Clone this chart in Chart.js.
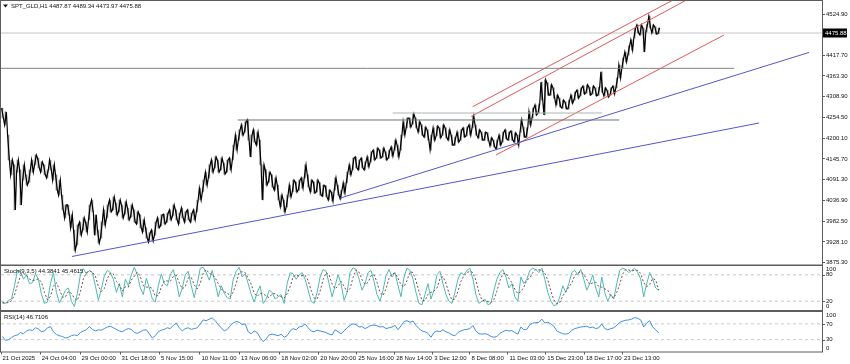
<!DOCTYPE html>
<html><head><meta charset="utf-8">
<script src="https://cdn.jsdelivr.net/npm/chart.js@4.4.1/dist/chart.umd.min.js"></script>
<style>
html,body{margin:0;padding:0;background:#fff;width:850px;height:364px;overflow:hidden}
.w{position:absolute;left:0;width:850px}
#wMain{top:0;height:266px}
#wSto{top:265px;height:46px}
#wRsi{top:311px;height:53px}
canvas{display:block}
</style></head><body>
<div class="w" id="wMain"><canvas id="cMain" width="850" height="266"></canvas></div>
<div class="w" id="wSto"><canvas id="cSto" width="850" height="46"></canvas></div>
<div class="w" id="wRsi"><canvas id="cRsi" width="850" height="53"></canvas></div>
<script>
// ---------- DATA ----------
const symbolTitle = 'SPT_GLD,H1 4487.87 4489.34 4473.97 4475.88';
const lastPrice = 4475.88;
const priceHigh = [
4279,4269,4208,4143,4130,4143,4117,4130,4104,4117,
4143,4156,4148,4138,4130,4117,4143,4130,4104,4090,
4051,4025,4025,3999,3959,3972,3980,3991,3980,4025,
4038,3999,3959,3980,4012,4025,4038,4046,4030,4038,
4025,4033,4017,4025,4012,4007,3999,3986,3965,3952,
3959,3980,3991,3999,4001,4004,4012,4025,4012,4004,
4017,4007,4012,4004,4012,4038,4069,4090,4111,4130,
4143,4151,4143,4148,4135,4143,4148,4182,4208,4222,
4235,4243,4248,4208,4222,4216,4195,4130,4117,4111,
4104,4096,4077,4051,4038,4051,4077,4090,4085,4090,
4096,4130,4104,4090,4085,4090,4083,4077,4075,4064,
4059,4096,4077,4064,4083,4111,4130,4148,4151,4143,
4148,4138,4151,4164,4169,4174,4169,4174,4164,4169,
4177,4195,4182,4208,4243,4253,4253,4264,4253,4243,
4235,4229,4222,4208,4227,4232,4227,4235,4227,4222,
4208,4203,4216,4222,4227,4229,4235,4258,4235,4222,
4216,4216,4214,4201,4195,4195,4208,4216,4222,4216,
4219,4214,4208,4248,4229,4227,4269,4279,4287,4290,
4347,4353,4345,4340,4332,4313,4305,4300,4295,4300,
4313,4321,4326,4332,4337,4340,4334,4337,4332,4334,
4374,4332,4326,4332,4337,4358,4392,4410,4426,4442,
4458,4489,4497,4497,4489,4499,4520,4497,4492,4489.34];
const priceLow = [
4253,4235,4143,4104,4012,4111,4025,4090,4077,4085,
4111,4130,4122,4111,4104,4096,4117,4090,4064,4051,
4012,3991,3999,3965,3906,3920,3946,3959,3954,3986,
4007,3946,3925,3938,3972,3991,4007,4012,3999,4007,
3991,4001,3986,3993,3980,3975,3965,3954,3938,3928,
3931,3946,3965,3970,3975,3980,3986,3996,3986,3975,
3991,3980,3986,3980,3986,4007,4038,4059,4077,4096,
4111,4122,4111,4117,4106,4111,4117,4143,4169,4195,
4208,4216,4195,4151,4190,4182,4130,4038,4077,4085,
4072,4064,4038,4020,4007,4020,4046,4059,4059,4064,
4069,4096,4072,4059,4056,4059,4051,4048,4046,4038,
4035,4064,4051,4041,4056,4083,4104,4117,4122,4117,
4122,4117,4125,4138,4143,4148,4148,4151,4143,4148,
4153,4169,4151,4169,4208,4227,4229,4237,4227,4216,
4208,4203,4195,4169,4195,4206,4201,4208,4201,4195,
4182,4182,4190,4195,4203,4206,4208,4227,4208,4201,
4195,4195,4193,4180,4177,4172,4182,4190,4198,4195,
4195,4190,4182,4216,4203,4203,4235,4253,4261,4266,
4300,4261,4313,4313,4305,4287,4282,4279,4277,4277,
4292,4300,4305,4311,4316,4319,4313,4316,4311,4313,
4321,4311,4308,4313,4316,4332,4358,4384,4400,4418,
4431,4463,4476,4471,4426,4479,4489,4476,4473,4473.97];
const priceTicks = [4524.90,4417.70,4363.30,4308.90,4254.50,4200.10,4145.70,4091.30,4036.90,3982.50,3928.10,3875.30];

const stochMain = [
15,15,22,25,55,90,88,70,80,60,
62,82,70,36,15,18,60,85,40,16,
30,45,50,20,8,38,80,94,82,90,
85,55,22,48,78,90,85,70,40,60,
30,70,55,80,97,80,50,35,72,50,
25,18,55,82,60,55,80,92,65,30,
50,80,88,55,28,60,95,97,85,68,
90,60,30,55,38,28,25,70,88,97,
75,82,60,36,18,40,55,15,25,45,
40,25,30,35,15,60,85,82,70,80,
85,70,45,20,15,40,75,92,88,60,
30,55,80,60,22,40,85,96,92,70,
45,60,85,90,65,35,20,45,78,92,
75,85,55,30,75,95,90,70,40,15,
12,35,60,25,45,80,88,60,35,20,
15,40,70,85,80,90,95,70,35,15,
20,25,12,15,45,70,85,92,75,50,
60,30,20,75,60,70,90,95,92,85,
95,70,40,20,10,12,30,55,40,60,
85,90,80,92,70,45,60,80,50,30,
75,40,20,35,25,60,90,95,92,85,
90,95,85,70,30,60,85,70,50,44.3841];
const stochSignal = [
18,16,17,21,34,57,78,83,79,70,
67,68,71,63,40,23,31,54,62,47,
29,30,42,38,26,22,42,71,85,89,
86,77,54,42,49,72,84,82,65,57,
43,53,52,68,77,86,76,55,52,52,
49,31,33,52,66,66,65,76,79,62,
48,53,73,74,57,48,61,84,92,83,
81,73,60,48,41,40,30,41,61,85,
87,85,72,59,38,31,38,37,32,28,
37,37,32,30,27,37,53,76,79,77,
78,79,67,45,27,25,43,69,85,80,
59,48,55,65,54,41,49,74,91,86,
69,58,63,78,80,63,40,33,48,72,
82,84,72,57,53,67,87,85,67,42,
22,21,36,40,43,50,71,76,61,38,
23,25,42,65,78,85,88,85,67,40,
23,20,19,17,24,43,67,82,84,72,
62,47,37,42,52,68,73,85,92,91,
91,83,68,43,23,14,17,32,42,52,
62,78,85,87,81,69,58,62,63,53,
52,48,45,32,27,40,58,82,92,91,
89,90,90,83,62,53,58,72,68,45.4615];
const rsiValues = [
38,28,30,35,40,42,48,45,52,55,
53,60,57,50,52,60,63,50,43,40,
38,34,36,40,42,40,48,52,55,63,
56,52,55,54,58,62,64,60,56,52,
50,55,58,56,48,46,50,54,55,45,
34,40,50,54,56,60,58,66,72,60,
52,58,60,56,58,60,70,80,78,82,
85,78,68,60,52,56,65,72,76,74,
68,70,50,45,52,48,35,25,32,42,
44,42,40,44,36,40,52,58,55,62,
64,70,60,52,50,54,52,50,48,44,
42,55,50,45,52,60,66,70,68,62,
63,58,62,66,67,65,62,63,58,60,
62,66,55,65,76,78,74,77,66,58,
52,50,46,36,48,52,50,55,50,47,
42,40,48,52,55,56,58,66,52,45,
44,45,43,38,36,38,46,50,54,52,
53,48,44,62,55,56,68,72,73,74,
82,72,74,70,64,52,48,45,44,46,
54,58,60,62,63,64,60,62,58,60,
70,58,55,58,60,66,74,77,79,80,
82,86,84,80,62,72,78,62,55,46.7106];
const stochLevels = [100,80,20,0];
const rsiLevels = [100,70,30,0];

const timeLabels = ['21 Oct 2025','24 Oct 04:00','29 Oct 00:00','31 Oct 18:00','5 Nov 15:00','10 Nov 11:00','13 Nov 06:00','18 Nov 02:00','20 Nov 20:00','25 Nov 16:00','28 Nov 14:00','3 Dec 12:00','8 Dec 08:00','11 Dec 03:00','15 Dec 23:00','18 Dec 17:00','23 Dec 13:00'];
const timeTickPos = [-0.5,12.57,25.9,39.23,52.43,65.9,79.1,92.57,105.57,118.23,130.9,143.57,156.0,168.67,181.33,194.23,206.9];

// drawn objects (sample index, price)
const askLine      = [{x:-0.5,y:4475.88},{x:273.5,y:4475.88}];
const resistance1  = [{x:-0.5,y:4383.3},{x:244.2,y:4383.3}];
const resistance2  = [{x:78.5,y:4247.8},{x:205.8,y:4247.8}];
const resistance3  = [{x:130.2,y:4266.1},{x:200.2,y:4266.1}];
const trendLow     = [{x:23.17,y:3889.9},{x:252.5,y:4239.9}];
const trendMid     = [{x:112.5,y:4042.5},{x:269.2,y:4425.0}];
const channelTop   = [{x:156.9,y:4282.6},{x:226.2,y:4572.6}];
const channelMid   = [{x:156.4,y:4257.0},{x:230.8,y:4573.2}];
const channelBot   = [{x:164.7,y:4156.0},{x:240.8,y:4470.6}];
const stoch80 = [{x:-0.5,y:80},{x:273.5,y:80}];
const stoch20 = [{x:-0.5,y:20},{x:273.5,y:20}];
const rsi70 = [{x:-0.5,y:70},{x:273.5,y:70}];
const rsi30 = [{x:-0.5,y:30},{x:273.5,y:30}];

// ---------- HELPERS ----------
const FONT = "'Liberation Sans', Arial, sans-serif";
const XMIN = -0.5, XMAX = 273.5;
const AXIS_W = 28;
const FRAME = '#5c5c5c';

const framePlugin = {
  id:'frame',
  afterDraw(chart){
    const a = chart.chartArea, ctx = chart.ctx;
    ctx.save();
    ctx.strokeStyle = FRAME; ctx.lineWidth = 1;
    ctx.strokeRect(a.left-0.5, a.top-0.5, a.right-a.left+1, a.bottom-a.top+1);
    ctx.restore();
  }
};
function titlePlugin(text, tri){
  return {
    id:'title'+text.length,
    afterDraw(chart){
      const ctx = chart.ctx, a = chart.chartArea;
      ctx.save();
      ctx.fillStyle = '#111';
      ctx.font = '6px ' + FONT;
      ctx.textBaseline = 'middle'; ctx.textAlign = 'left';
      let x = a.left + 3;
      if (tri){
        ctx.beginPath(); ctx.moveTo(3,4.5); ctx.lineTo(8,4.5); ctx.lineTo(5.5,7.5); ctx.closePath(); ctx.fill();
        x = 11;
      }
      ctx.fillText(text, x, a.top + 5.5);
      ctx.restore();
    }
  };
}
function levelLabels(values){
  return {
    id:'lvl',
    afterDraw(chart){
      const ctx = chart.ctx, a = chart.chartArea, y = chart.scales.y;
      ctx.save();
      ctx.font = '6px ' + FONT; ctx.fillStyle = '#111'; ctx.textAlign='left';
      ctx.strokeStyle = FRAME; ctx.lineWidth = 1;
      values.forEach(v => {
        let py = y.getPixelForValue(v), base = 'middle';
        if (v === y.max){ base='top'; py = a.top + 0.5; }
        else if (v === y.min){ base='bottom'; py = a.bottom - 0.5; }
        else {
          const ty = Math.round(y.getPixelForValue(v)) + 0.5;
          ctx.beginPath(); ctx.moveTo(a.right, ty); ctx.lineTo(a.right+3, ty); ctx.stroke();
        }
        ctx.textBaseline = base;
        ctx.fillText(String(v), a.right + 4, py);
      });
      ctx.restore();
    }
  };
}
const priceBoxPlugin = {
  id:'pricebox',
  afterDraw(chart){
    const ctx = chart.ctx, a = chart.chartArea, y = chart.scales.y;
    const py = y.getPixelForValue(lastPrice);
    ctx.save();
    ctx.fillStyle = '#000';
    ctx.fillRect(a.right + 1, Math.round(py) - 4.5, 24, 9);
    ctx.fillStyle = '#fff'; ctx.font = '6px ' + FONT;
    ctx.textBaseline = 'middle'; ctx.textAlign = 'left';
    ctx.fillText(lastPrice.toFixed(2), a.right + 3, py);
    ctx.restore();
  }
};
function lineDs(data, color, width, dash, order){
  return {type:'line', data, borderColor:color, borderWidth:width||1, borderDash:dash||[], pointRadius:0, fill:false, tension:0, order:order||0};
}
function seriesXY(arr){ return arr.map((v,i)=>({x:i, y:v})); }
// each sample drawn as a tight zig-zag between its low and high (dense OHLC look)
function rangeTrace(hi, lo){
  const pts = [];
  hi.forEach((h,i)=>{
    const a = i % 2 ? lo[i] : h, b = i % 2 ? h : lo[i];
    pts.push({x:i-0.3, y:a}, {x:i+0.3, y:b});
  });
  return pts;
}
const baseX = {type:'linear', min:XMIN, max:XMAX, display:false, offset:false, grid:{offset:false}};
function hiddenY(min, max){
  return {type:'linear', position:'right', min, max, display:true,
    ticks:{display:false}, grid:{display:false}, border:{display:false},
    afterFit(s){ s.width = AXIS_W; s.paddingTop = 0; s.paddingBottom = 0; }};
}
const common = {responsive:false, animation:false, events:[], plugins:{legend:{display:false}, tooltip:{enabled:false}}};

// ---------- MAIN PRICE CHART ----------
new Chart(document.getElementById('cMain'), {
  type:'bar',
  data:{datasets:[
    lineDs(askLine, '#c4c4c4', 1, [], 5),
    lineDs(resistance1, '#7d8585', 1, [], 1),
    lineDs(resistance2, '#6f7373', 1, [], 1),
    lineDs(resistance3, '#a9b8ad', 1, [], 1),
    lineDs(trendLow, '#5454d0', 1, [], 1),
    lineDs(trendMid, '#5454d0', 1, [], 1),
    lineDs(channelTop, '#e05858', 1, [], 1),
    lineDs(channelMid, '#e05858', 1, [], 1),
    lineDs(channelBot, '#e05858', 1, [], 1),
    lineDs(rangeTrace(priceHigh, priceLow), '#000', 1.2, [], 3),
    {type:'bar', data: priceHigh.map((h,i)=>({x:i, y:[priceLow[i], h]})), backgroundColor:'rgba(40,40,40,0.55)', borderWidth:0, barThickness:1, order:4}
  ]},
  options:Object.assign({}, common, {
    layout:{padding:{left:1, top:1, right:0, bottom:1.5}},
    scales:{
      x: baseX,
      y:{type:'linear', position:'right', min:3868.9, max:4559.8,
        afterBuildTicks(s){ s.ticks = priceTicks.map(v=>({value:v})); },
        afterFit(s){ s.width = AXIS_W; s.paddingTop = 0; s.paddingBottom = 0; },
        ticks:{autoSkip:false, font:{size:6, family:FONT}, color:'#111', padding:1, callback:v=>Number(v).toFixed(2)},
        grid:{drawOnChartArea:false, tickLength:3, color:FRAME},
        border:{display:false}}
    }
  }),
  plugins:[framePlugin, priceBoxPlugin, titlePlugin(symbolTitle, true)]
});

// ---------- STOCHASTIC ----------
new Chart(document.getElementById('cSto'), {
  type:'line',
  data:{datasets:[
    lineDs(stoch80, '#c8c8c8', 1, [3,3], 3),
    lineDs(stoch20, '#c8c8c8', 1, [3,3], 3),
    lineDs(seriesXY(stochMain), '#4cbab4', 1, [], 1),
    lineDs(seriesXY(stochSignal), '#7a4a4a', 1, [2,2], 0)
  ]},
  options:Object.assign({}, common, {
    layout:{padding:{left:1, top:1, right:0, bottom:1}},
    scales:{x: baseX, y: hiddenY(0,100)}
  }),
  plugins:[framePlugin, levelLabels(stochLevels), titlePlugin('Stoch(9,3,5) 44.3841 45.4615', false)]
});

// ---------- RSI ----------
new Chart(document.getElementById('cRsi'), {
  type:'line',
  data:{datasets:[
    lineDs(rsi70, '#c8c8c8', 1, [3,3], 3),
    lineDs(rsi30, '#c8c8c8', 1, [3,3], 3),
    lineDs(seriesXY(rsiValues), '#3d8fe6', 1, [], 0)
  ]},
  options:Object.assign({}, common, {
    layout:{padding:{left:1, top:1, right:0, bottom:0}},
    scales:{
      x:{type:'linear', min:XMIN, max:XMAX, position:'bottom', offset:false,
        afterBuildTicks(s){ s.ticks = timeTickPos.map(v=>({value:v})); },
        afterFit(s){ s.height = 12.5; s.paddingLeft = 0; s.paddingRight = 0; },
        ticks:{autoSkip:false, maxRotation:0, minRotation:0, align:'start', labelOffset:1.5, padding:0,
          font:{size:6, family:FONT}, color:'#111',
          callback:(v,i)=>timeLabels[i]},
        grid:{drawOnChartArea:false, tickLength:3, color:FRAME},
        border:{display:false}},
      y: hiddenY(0,100)
    }
  }),
  plugins:[framePlugin, levelLabels(rsiLevels), titlePlugin('RSI(14) 46.7106', false)]
});
</script>
</body></html>
